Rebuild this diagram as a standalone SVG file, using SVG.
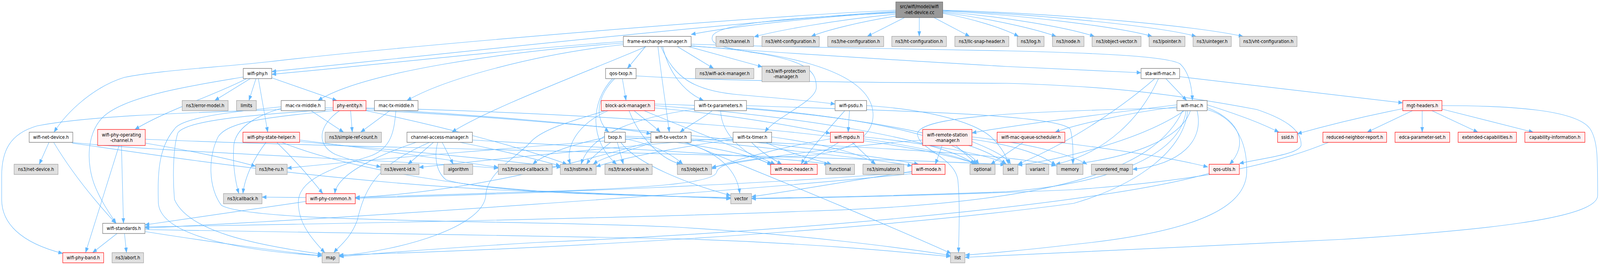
<svg xmlns="http://www.w3.org/2000/svg" width="4769" height="675" viewBox="0 0 4769 675" preserveAspectRatio="none">
<style>
svg{width:100vw;height:100vh;display:block}
.bg{fill:#ffffff}
.n rect{fill:#ffffff;stroke:#666666;stroke-width:1.2}
.g rect{fill:#e0e0e0;stroke:#999999;stroke-width:1.2}
.r rect{fill:#fff0f0;stroke:#ff0000;stroke-width:1.2}
.root rect{fill:#999999;stroke:#666666;stroke-width:1.2}
text{font-family:"DejaVu Sans","Liberation Sans",sans-serif;font-size:12.8px;fill:#000000;text-anchor:middle}
#edges path{fill:none;stroke:#63b8ff;stroke-width:1.2;marker-end:url(#arr)}
</style>
<defs>
<marker id="arr" markerUnits="userSpaceOnUse" markerWidth="13" markerHeight="10" viewBox="0 0 13 10" refX="13" refY="5" orient="auto">
<path d="M0,0 L13,5 L0,10 z" fill="#63b8ff" stroke="#63b8ff" stroke-width="0.5"/>
</marker>
</defs>
<rect class="bg" x="0" y="0" width="4769" height="675"/>
<g id="edges">
<path d="M2670,26 C2200,45 1200,118 800,158 C640,173 470,180 370,198 C280,222 200,285 161,338"/>
<path d="M2670,29 C2200,55 1300,140 810,183"/>
<path d="M2670,31 C2420,44 2180,68 2060,88"/>
<path d="M2672,36 C2480,52 2320,78 2248,94"/>
<path d="M2678,40 C2560,56 2460,78 2418,93"/>
<path d="M2696,45 L2585,93"/>
<path d="M2740,45 L2740,93"/>
<path d="M2784,45 L2890,93"/>
<path d="M2810,34 C2900,48 2990,72 3036,93"/>
<path d="M2810,32 C2940,46 3080,72 3148,93"/>
<path d="M2810,30 C2990,42 3180,70 3262,93"/>
<path d="M2810,28 C3050,38 3340,70 3434,93"/>
<path d="M2810,27 C3100,36 3460,68 3565,93"/>
<path d="M2810,26 C3150,34 3560,66 3705,93"/>
<path d="M2670,33 C2350,45 2150,60 2125,90 C2110,115 2160,122 2250,135 C2400,155 2435,180 2433,225 C2431,260 2310,300 2280,338"/>
<path d="M1858,106 C1500,128 1100,168 810,190"/>
<path d="M1858,110 C1500,132 1080,185 948,257"/>
<path d="M1858,114 C1600,138 1330,200 1213,257"/>
<path d="M1926,119 C1760,180 1450,280 1347,338"/>
<path d="M1924,119 L1870,175"/>
<path d="M1961,119 C1972,200 1988,290 1995,338"/>
<path d="M1975,119 C1995,190 2040,235 2097,257"/>
<path d="M2019,119 L2127,175"/>
<path d="M2052,119 L2272,171"/>
<path d="M1970,119 C2010,200 2070,232 2200,242 C2330,252 2420,258 2489,266"/>
<path d="M2060,113 C2400,122 2800,127 3000,130 C3300,136 3480,145 3517,163 C3545,185 3553,225 3554,257"/>
<path d="M2060,117 C2300,135 2800,160 3000,170 C3200,177 3330,182 3401,186"/>
<path d="M2060,118 C2300,130 2560,170 2598,270 C2625,350 2520,392 2400,398 C2200,405 2140,420 2136,440 C2130,470 1900,482 1600,490 C1300,497 1150,502 1059,505"/>
<path d="M1855,201 L1866,257"/>
<path d="M1832,201 C1785,240 1765,300 1815,338"/>
<path d="M1826,201 C1760,260 1755,360 1838,420"/>
<path d="M1896,194 C2100,205 2400,210 3000,213 C3300,220 3500,240 3746,280 C3850,310 3880,340 3878,372 C3870,395 3760,405 3694,418"/>
<path d="M1890,283 C1920,305 1950,322 1968,338"/>
<path d="M1812,283 C1715,320 1685,380 1700,420"/>
<path d="M1875,283 C1900,340 1960,405 2030,420"/>
<path d="M1920,283 C2050,330 2250,395 2310,420"/>
<path d="M1951,276 C2150,290 2350,320 2475,341"/>
<path d="M1805,283 C1700,310 1620,330 1585,360 C1545,400 1450,440 1448,500 C1440,580 1200,640 1011,654"/>
<path d="M1951,270 C2300,290 2800,350 2905,420"/>
<path d="M1951,266 C2400,275 2900,340 2998,420"/>
<path d="M2123,283 C2090,305 2050,322 2027,338"/>
<path d="M2148,283 C2150,350 2230,400 2300,420"/>
<path d="M2071,279 C1900,300 1760,340 1732,420"/>
<path d="M2225,276 C2500,295 2850,340 2918,420"/>
<path d="M2225,270 C2600,282 3150,290 3190,330 C3200,360 3198,400 3198,420"/>
<path d="M2532,283 L2528,338"/>
<path d="M2518,283 C2470,330 2410,385 2388,420"/>
<path d="M2583,270 C2800,282 2920,320 2960,355 C2990,382 3002,405 3006,420"/>
<path d="M2185,356 C2000,380 1850,405 1777,426"/>
<path d="M2282,364 C2350,392 2430,408 2478,420"/>
<path d="M2185,352 C1900,370 1500,405 1249,428"/>
<path d="M2240,364 C2270,390 2300,405 2330,420"/>
<path d="M2300,350 C2450,368 2570,392 2610,420"/>
<path d="M2040,364 C2150,392 2198,440 2205,495"/>
<path d="M2060,358 C2300,380 2600,405 2718,424"/>
<path d="M1945,364 C1880,385 1800,400 1768,420"/>
<path d="M2046,364 C2200,420 2500,520 2835,648"/>
<path d="M1942,362 C1700,420 1400,490 1059,505"/>
<path d="M1940,352 C1600,372 1100,408 856,430"/>
<path d="M1820,364 C1790,385 1760,405 1748,420"/>
<path d="M1840,364 L1858,420"/>
<path d="M1850,364 C1900,420 2050,470 2178,500"/>
<path d="M1864,355 C1950,370 2005,395 2035,420"/>
<path d="M1802,352 C1700,370 1620,395 1588,420"/>
<path d="M1864,351 C2050,362 2250,395 2302,423"/>
<path d="M1864,348 C2300,365 3000,388 3147,424"/>
<path d="M1240,364 C1150,390 1005,440 998,495"/>
<path d="M1280,364 C1132,420 1090,470 1065,563 C1045,610 1010,630 995,646"/>
<path d="M1292,364 L1216,420"/>
<path d="M1318,364 L1351,420"/>
<path d="M1305,364 C1293,400 1300,440 1330,460 C1450,490 1800,500 2178,505"/>
<path d="M1371,364 C1500,385 1600,408 1670,424"/>
<path d="M1408,358 C1800,378 2300,398 2470,420"/>
<path d="M927,283 L1024,338"/>
<path d="M838,273 C700,285 540,300 520,330 C470,380 470,450 472,520 C480,600 700,640 960,654"/>
<path d="M838,277 C780,292 705,320 697,370 C692,420 703,470 712,495"/>
<path d="M1162,283 L1075,338"/>
<path d="M1180,283 C1175,330 1170,380 1100,400 C950,440 880,470 890,530 C895,580 940,620 968,646"/>
<path d="M1045,283 L1050,338"/>
<path d="M1012,283 C950,320 940,370 1000,395 C1060,415 1100,420 1135,427"/>
<path d="M993,275 C700,286 300,290 110,322 C30,342 5,385 5,450 L5,510 C5,570 60,620 187,648"/>
<path d="M1091,278 C1400,292 1800,320 1940,342"/>
<path d="M1091,282 C1600,300 2500,380 2738,420"/>
<path d="M1091,283 C1300,320 1550,375 1690,420"/>
<path d="M993,279 C850,290 560,300 530,340 C515,380 515,460 520,510 C560,590 750,625 960,650"/>
<path d="M993,283 C800,300 680,310 650,350 C620,400 620,480 660,525 C750,570 1500,562 2000,580 C2400,600 2700,635 2833,653"/>
<path d="M1091,276 C1700,288 2600,330 2915,420"/>
<path d="M746,201 L640,257"/>
<path d="M763,201 L742,257"/>
<path d="M735,201 C650,240 500,280 402,331"/>
<path d="M725,197 C600,215 400,240 320,290 C255,330 255,420 285,480 C305,520 330,550 346,571"/>
<path d="M770,201 L798,338"/>
<path d="M810,199 L1004,257"/>
<path d="M146,364 L117,420"/>
<path d="M160,364 C220,450 290,520 345,571"/>
<path d="M212,364 C500,390 1200,410 1485,430"/>
<path d="M215,366 C500,400 1000,470 1600,490 C1900,500 2100,505 2178,507"/>
<path d="M355,372 L255,646"/>
<path d="M362,372 L368,571"/>
<path d="M433,366 C600,390 700,410 762,425"/>
<path d="M433,356 C1000,378 2500,398 2995,421"/>
<path d="M793,364 C760,400 730,450 724,495"/>
<path d="M825,364 C880,410 930,460 962,495"/>
<path d="M893,358 C1100,380 1350,410 1485,428"/>
<path d="M840,364 C1000,420 1300,470 1600,488 C1900,500 2100,505 2178,508"/>
<path d="M893,362 C1200,385 1500,410 1672,428"/>
<path d="M2500,364 L2394,420"/>
<path d="M2540,364 L2609,420"/>
<path d="M2574,355 C2700,370 2850,395 2910,420"/>
<path d="M2574,350 C2750,365 2950,395 3000,420"/>
<path d="M2475,355 C2300,380 2150,420 2121,432"/>
<path d="M2808,372 L2788,420"/>
<path d="M2849,372 L2912,420"/>
<path d="M2897,362 C2950,380 3000,400 3012,420"/>
<path d="M2897,356 C3050,375 3110,400 3147,422"/>
<path d="M2897,350 C3100,370 3200,400 3240,420"/>
<path d="M2750,358 C2500,375 2250,405 2121,428"/>
<path d="M3050,364 L2953,420"/>
<path d="M3155,364 C3350,385 3500,405 3600,427"/>
<path d="M3598,268 C3680,290 3760,315 3812,338"/>
<path d="M3598,275 C3700,310 3720,370 3665,420"/>
<path d="M3568,283 C3590,360 3520,420 3376,433"/>
<path d="M3530,283 C3400,360 3150,410 3034,422"/>
<path d="M3548,283 C3520,360 3350,410 3147,424"/>
<path d="M3508,273 C3350,290 3200,320 3145,338"/>
<path d="M3508,268 C3300,290 3000,322 2897,340"/>
<path d="M3598,280 C3680,300 3718,360 3716,440 C3714,520 3600,590 3200,625 C3050,640 2920,650 2877,652"/>
<path d="M3540,283 C3530,380 3400,470 3200,520 C2500,600 1500,640 1011,652"/>
<path d="M3535,283 C3520,400 3300,470 3000,490 C2700,500 2400,505 2240,507"/>
<path d="M3525,283 C3450,420 3200,520 2400,540 C1800,560 800,575 432,580"/>
<path d="M3508,276 C3000,285 2750,300 2735,340 C2730,380 2845,400 2855,460 C2862,520 2858,600 2857,646"/>
<path d="M3604,443 C3300,520 2400,590 1600,620 C1300,635 1100,650 1011,656"/>
<path d="M3960,364 C3800,420 3600,460 3200,485 C2800,500 2500,505 2240,508"/>
<path d="M4210,283 L4075,338"/>
<path d="M4239,283 L4239,338"/>
<path d="M4268,283 L4405,338"/>
<path d="M4298,279 L4570,338"/>
<path d="M4181,278 C4050,300 3950,322 3867,342"/>
<path d="M4298,270 C4500,270 4700,280 4740,330 C4762,360 4762,400 4762,500 C4762,560 4400,590 4000,612 C3600,630 3000,650 2876,658"/>
<path d="M3475,201 L3537,257"/>
<path d="M3516,196 C3800,225 4000,245 4181,263"/>
<path d="M3442,201 C3350,270 3200,360 3034,420"/>
<path d="M3453,201 C3400,300 3300,390 3147,420"/>
<path d="M912,515 C700,540 500,565 432,575"/>
<path d="M912,505 L781,504"/>
<path d="M349,597 L276,646"/>
<path d="M371,597 L377,646"/>
<path d="M432,592 C600,615 850,645 960,654"/>
<path d="M432,587 C800,595 1500,600 2000,610 C2400,620 2700,645 2833,656"/>
<path d="M2718,440 C2300,470 1600,495 1059,507"/>
<path d="M2718,438 C2550,460 2350,490 2240,503"/>
<path d="M2718,444 C2200,490 1000,560 432,583"/>
</g>
<g id="node-root" class="root"><rect x="2670" y="5" width="140" height="40"/><text x="2740" y="21">src/wifi/model/wifi</text><text x="2740" y="36">-net-device.cc</text></g>
<g id="node-fem" class="n"><rect x="1858" y="93" width="202" height="26"/><text x="1959" y="110.5">frame-exchange-manager.h</text></g>
<g id="node-channel" class="g"><rect x="2134" y="93" width="112" height="26"/><text x="2190" y="110.5">ns3/channel.h</text></g>
<g id="node-eht" class="g"><rect x="2271" y="93" width="171" height="26"/><text x="2356.5" y="110.5">ns3/eht-configuration.h</text></g>
<g id="node-hecfg" class="g"><rect x="2467" y="93" width="167" height="26"/><text x="2550.5" y="110.5">ns3/he-configuration.h</text></g>
<g id="node-htcfg" class="g"><rect x="2658" y="93" width="163" height="26"/><text x="2739.5" y="110.5">ns3/ht-configuration.h</text></g>
<g id="node-llc" class="g"><rect x="2846" y="93" width="161" height="26"/><text x="2926.5" y="110.5">ns3/llc-snap-header.h</text></g>
<g id="node-log" class="g"><rect x="3032" y="93" width="80" height="26"/><text x="3072" y="110.5">ns3/log.h</text></g>
<g id="node-node" class="g"><rect x="3137" y="93" width="94" height="26"/><text x="3184" y="110.5">ns3/node.h</text></g>
<g id="node-objvec" class="g"><rect x="3255" y="93" width="146" height="26"/><text x="3328" y="110.5">ns3/object-vector.h</text></g>
<g id="node-pointer" class="g"><rect x="3425" y="93" width="107" height="26"/><text x="3478.5" y="110.5">ns3/pointer.h</text></g>
<g id="node-uinteger" class="g"><rect x="3556" y="93" width="114" height="26"/><text x="3613" y="110.5">ns3/uinteger.h</text></g>
<g id="node-vht" class="g"><rect x="3695" y="93" width="171" height="26"/><text x="3780.5" y="110.5">ns3/vht-configuration.h</text></g>
<g id="node-wifiphy" class="n"><rect x="725" y="175" width="85" height="26"/><text x="767.5" y="192.5">wifi-phy.h</text></g>
<g id="node-qostxop" class="n"><rect x="1805" y="175" width="91" height="26"/><text x="1850.5" y="192.5">qos-txop.h</text></g>
<g id="node-ackmgr" class="g"><rect x="2073" y="175" width="174" height="26"/><text x="2160" y="192.5">ns3/wifi-ack-manager.h</text></g>
<g id="node-protmgr" class="g"><rect x="2271" y="169" width="142" height="40"/><text x="2342" y="186">ns3/wifi-protection</text><text x="2342" y="200">-manager.h</text></g>
<g id="node-stamac" class="n"><rect x="3401" y="175" width="115" height="26"/><text x="3458.5" y="192.5">sta-wifi-mac.h</text></g>
<g id="node-errmodel" class="g"><rect x="543" y="257" width="137" height="26"/><text x="611.5" y="274.5">ns3/error-model.h</text></g>
<g id="node-limits" class="g"><rect x="705" y="257" width="59" height="26"/><text x="734.5" y="274.5">limits</text></g>
<g id="node-macrx" class="n"><rect x="838" y="257" width="131" height="26"/><text x="903.5" y="274.5">mac-rx-middle.h</text></g>
<g id="node-phyentity" class="r"><rect x="993" y="257" width="98" height="26"/><text x="1042" y="274.5">phy-entity.h</text></g>
<g id="node-mactx" class="n"><rect x="1116" y="257" width="130" height="26"/><text x="1181" y="274.5">mac-tx-middle.h</text></g>
<g id="node-bam" class="r"><rect x="1792" y="257" width="159" height="26"/><text x="1871.5" y="274.5">block-ack-manager.h</text></g>
<g id="node-txparams" class="n"><rect x="2070" y="257" width="155" height="26"/><text x="2147.5" y="274.5">wifi-tx-parameters.h</text></g>
<g id="node-psdu" class="n"><rect x="2489" y="257" width="94" height="26"/><text x="2536" y="274.5">wifi-psdu.h</text></g>
<g id="node-wifimac" class="n"><rect x="3508" y="257" width="90" height="26"/><text x="3553" y="274.5">wifi-mac.h</text></g>
<g id="node-mgt" class="r"><rect x="4181" y="257" width="117" height="26"/><text x="4239.5" y="274.5">mgt-headers.h</text></g>
<g id="node-netdev" class="n"><rect x="87" y="338" width="130" height="26"/><text x="152" y="355.5">wifi-net-device.h</text></g>
<g id="node-opchan" class="r"><rect x="291" y="331" width="142" height="41"/><text x="362" y="349">wifi-phy-operating</text><text x="362" y="363">-channel.h</text></g>
<g id="node-statehelper" class="r"><rect x="724" y="338" width="169" height="26"/><text x="808.5" y="355.5">wifi-phy-state-helper.h</text></g>
<g id="node-srefcount" class="g"><rect x="969" y="338" width="168" height="26"/><text x="1053" y="355.5">ns3/simple-ref-count.h</text></g>
<g id="node-cam" class="n"><rect x="1213" y="338" width="195" height="26"/><text x="1310.5" y="355.5">channel-access-manager.h</text></g>
<g id="node-txop" class="n"><rect x="1802" y="338" width="62" height="26"/><text x="1833" y="355.5">txop.h</text></g>
<g id="node-txvec" class="n"><rect x="1940" y="338" width="120" height="26"/><text x="2000" y="355.5">wifi-tx-vector.h</text></g>
<g id="node-txtimer" class="n"><rect x="2185" y="338" width="115" height="26"/><text x="2242.5" y="355.5">wifi-tx-timer.h</text></g>
<g id="node-mpdu" class="r"><rect x="2475" y="338" width="99" height="26"/><text x="2524.5" y="355.5">wifi-mpdu.h</text></g>
<g id="node-rsm" class="r"><rect x="2750" y="331" width="147" height="41"/><text x="2823.5" y="349">wifi-remote-station</text><text x="2823.5" y="363">-manager.h</text></g>
<g id="node-mqs" class="r"><rect x="2972" y="338" width="202" height="26"/><text x="3073" y="355.5">wifi-mac-queue-scheduler.h</text></g>
<g id="node-ssid" class="r"><rect x="3808" y="338" width="59" height="26"/><text x="3837.5" y="355.5">ssid.h</text></g>
<g id="node-rnr" class="r"><rect x="3943" y="338" width="190" height="26"/><text x="4038" y="355.5">reduced-neighbor-report.h</text></g>
<g id="node-edca" class="r"><rect x="4158" y="338" width="163" height="26"/><text x="4239.5" y="355.5">edca-parameter-set.h</text></g>
<g id="node-extcap" class="r"><rect x="4346" y="338" width="174" height="26"/><text x="4433" y="355.5">extended-capabilities.h</text></g>
<g id="node-capinfo" class="r"><rect x="4545" y="338" width="179" height="26"/><text x="4634.5" y="355.5">capability-information.h</text></g>
<g id="node-netdevh" class="g"><rect x="42" y="420" width="131" height="26"/><text x="107.5" y="437.5">ns3/net-device.h</text></g>
<g id="node-heru" class="g"><rect x="762" y="420" width="94" height="26"/><text x="809" y="437.5">ns3/he-ru.h</text></g>
<g id="node-eventid" class="g"><rect x="1135" y="420" width="114" height="26"/><text x="1192" y="437.5">ns3/event-id.h</text></g>
<g id="node-algorithm" class="g"><rect x="1323" y="420" width="86" height="26"/><text x="1366" y="437.5">algorithm</text></g>
<g id="node-tcb" class="g"><rect x="1485" y="420" width="161" height="26"/><text x="1565.5" y="437.5">ns3/traced-callback.h</text></g>
<g id="node-nstime" class="g"><rect x="1670" y="420" width="107" height="26"/><text x="1723.5" y="437.5">ns3/nstime.h</text></g>
<g id="node-tval" class="g"><rect x="1803" y="420" width="141" height="26"/><text x="1873.5" y="437.5">ns3/traced-value.h</text></g>
<g id="node-object" class="g"><rect x="2019" y="420" width="102" height="26"/><text x="2070" y="437.5">ns3/object.h</text></g>
<g id="node-machdr" class="r"><rect x="2297" y="420" width="139" height="26"/><text x="2366.5" y="437.5">wifi-mac-header.h</text></g>
<g id="node-functional" class="g"><rect x="2461" y="420" width="86" height="26"/><text x="2504" y="437.5">functional</text></g>
<g id="node-simulator" class="g"><rect x="2572" y="420" width="122" height="26"/><text x="2633" y="437.5">ns3/simulator.h</text></g>
<g id="node-mode" class="r"><rect x="2718" y="420" width="99" height="26"/><text x="2767.5" y="437.5">wifi-mode.h</text></g>
<g id="node-optional" class="g"><rect x="2891" y="420" width="75" height="26"/><text x="2928.5" y="437.5">optional</text></g>
<g id="node-set" class="g"><rect x="2990" y="420" width="44" height="26"/><text x="3012" y="437.5">set</text></g>
<g id="node-variant" class="g"><rect x="3058" y="420" width="68" height="26"/><text x="3092" y="437.5">variant</text></g>
<g id="node-memory" class="g"><rect x="3150" y="420" width="78" height="26"/><text x="3189" y="437.5">memory</text></g>
<g id="node-umap" class="g"><rect x="3253" y="420" width="123" height="26"/><text x="3314.5" y="437.5">unordered_map</text></g>
<g id="node-qosutils" class="r"><rect x="3604" y="420" width="90" height="26"/><text x="3649" y="437.5">qos-utils.h</text></g>
<g id="node-callback" class="g"><rect x="666" y="495" width="115" height="26"/><text x="723.5" y="512.5">ns3/callback.h</text></g>
<g id="node-phycommon" class="r"><rect x="912" y="495" width="147" height="26"/><text x="985.5" y="512.5">wifi-phy-common.h</text></g>
<g id="node-vector" class="g"><rect x="2178" y="495" width="62" height="26"/><text x="2209" y="512.5">vector</text></g>
<g id="node-standards" class="n"><rect x="306" y="571" width="126" height="26"/><text x="369" y="588.5">wifi-standards.h</text></g>
<g id="node-band" class="r"><rect x="187" y="646" width="122" height="26"/><text x="248" y="663.5">wifi-phy-band.h</text></g>
<g id="node-abort" class="g"><rect x="334" y="646" width="94" height="26"/><text x="381" y="663.5">ns3/abort.h</text></g>
<g id="node-map" class="g"><rect x="960" y="646" width="51" height="26"/><text x="985.5" y="663.5">map</text></g>
<g id="node-list" class="g"><rect x="2833" y="646" width="43" height="26"/><text x="2854.5" y="663.5">list</text></g>
</svg>
